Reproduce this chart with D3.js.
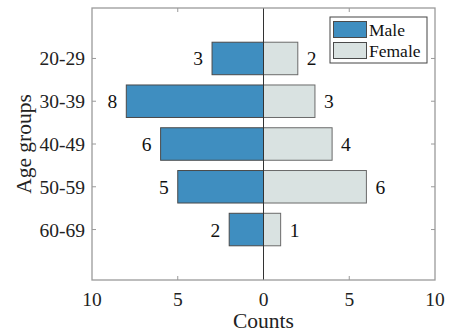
<!DOCTYPE html>
<meta charset="utf-8">
<style>
  body { margin: 0; background: #fff; }
  text { font-family: "Liberation Serif", "Times New Roman", serif; }
</style>
<body>
<div id="chart"></div>
<script src="https://d3js.org/d3.v7.min.js"></script>
<script>
// data
const ageGroups = ["20-29", "30-39", "40-49", "50-59", "60-69"];
const male   = [3, 8, 6, 5, 2];
const female = [2, 3, 4, 6, 1];
const xTicks = [-10, -5, 0, 5, 10];

const W = 453, H = 332;
const plot = { left: 92, right: 435, top: 8, bottom: 280 };

const svg = d3.select("#chart").append("svg")
    .attr("width", W).attr("height", H);

const x = d3.scaleLinear().domain([-10, 10]).range([plot.left, plot.right]);
const y = d3.scalePoint().domain(ageGroups).range([plot.top, plot.bottom]).padding(1.18);
const barH = y.step() * 0.76;

const rows = ageGroups.map((g, i) => ({ g, m: male[i], f: female[i] }));

// bars
svg.selectAll(".male").data(rows).join("rect")
    .attr("x", d => x(-d.m)).attr("width", d => x(0) - x(-d.m))
    .attr("y", d => y(d.g) - barH / 2).attr("height", barH)
    .attr("fill", "#3f8ec0").attr("stroke", "#4a4a4a").attr("stroke-width", 1);

svg.selectAll(".female").data(rows).join("rect")
    .attr("x", x(0)).attr("width", d => x(d.f) - x(0))
    .attr("y", d => y(d.g) - barH / 2).attr("height", barH)
    .attr("fill", "#d9e2e1").attr("stroke", "#6a6a6a").attr("stroke-width", 1);

// value labels
svg.selectAll(".mlab").data(rows).join("text")
    .attr("x", d => x(-d.m) - 9).attr("y", d => y(d.g) + 7)
    .attr("text-anchor", "end").attr("font-size", 19.5).attr("fill", "#111")
    .text(d => d.m);
svg.selectAll(".flab").data(rows).join("text")
    .attr("x", d => x(d.f) + 9).attr("y", d => y(d.g) + 7)
    .attr("text-anchor", "start").attr("font-size", 19.5).attr("fill", "#111")
    .text(d => d.f);

// zero line
svg.append("line")
    .attr("x1", x(0)).attr("x2", x(0)).attr("y1", plot.top).attr("y2", plot.bottom)
    .attr("stroke", "#333").attr("stroke-width", 1);

// box + ticks
const axisCol = "#9a9a9a";
svg.append("rect")
    .attr("x", plot.left).attr("y", plot.top)
    .attr("width", plot.right - plot.left).attr("height", plot.bottom - plot.top)
    .attr("fill", "none").attr("stroke", axisCol).attr("stroke-width", 1.3);

const tl = 4;
xTicks.filter(t => t !== 0 && Math.abs(t) !== 10).forEach(t => {
  svg.append("line").attr("x1", x(t)).attr("x2", x(t))
      .attr("y1", plot.bottom).attr("y2", plot.bottom - tl).attr("stroke", axisCol);
  svg.append("line").attr("x1", x(t)).attr("x2", x(t))
      .attr("y1", plot.top).attr("y2", plot.top + tl).attr("stroke", axisCol);
});
ageGroups.forEach(g => {
  svg.append("line").attr("x1", plot.left).attr("x2", plot.left + tl)
      .attr("y1", y(g)).attr("y2", y(g)).attr("stroke", axisCol);
  svg.append("line").attr("x1", plot.right).attr("x2", plot.right - tl)
      .attr("y1", y(g)).attr("y2", y(g)).attr("stroke", axisCol);
});

// tick labels
svg.selectAll(".xt").data(xTicks).join("text")
    .attr("x", d => x(d)).attr("y", 306)
    .attr("text-anchor", "middle").attr("font-size", 19.5).attr("fill", "#222")
    .text(d => Math.abs(d));
svg.selectAll(".yt").data(ageGroups).join("text")
    .attr("x", 85).attr("y", d => y(d) + 7)
    .attr("text-anchor", "end").attr("font-size", 19.5).attr("fill", "#222")
    .text(d => d);

// axis titles
svg.append("text")
    .attr("x", x(0)).attr("y", 328)
    .attr("text-anchor", "middle").attr("font-size", 21.5).attr("fill", "#222")
    .text("Counts");
svg.append("text")
    .attr("transform", `translate(31,${(plot.top + plot.bottom) / 2}) rotate(-90)`)
    .attr("text-anchor", "middle").attr("font-size", 21.5).attr("fill", "#222")
    .text("Age groups");

// legend
const lg = svg.append("g");
lg.append("rect").attr("x", 330).attr("y", 17).attr("width", 97).attr("height", 46)
    .attr("fill", "#fff").attr("stroke", "#444").attr("stroke-width", 1);
const legendItems = [
  { name: "Male", fill: "#3f8ec0", y: 21.5 },
  { name: "Female", fill: "#d9e2e1", y: 42.5 }
];
legendItems.forEach(d => {
  lg.append("rect").attr("x", 333.5).attr("y", d.y).attr("width", 33).attr("height", 16)
      .attr("fill", d.fill).attr("stroke", "#4a4a4a");
  lg.append("text").attr("x", 369).attr("y", d.y + 14.5)
      .attr("font-size", 17.5).attr("fill", "#111").text(d.name);
});
</script>
</body>
